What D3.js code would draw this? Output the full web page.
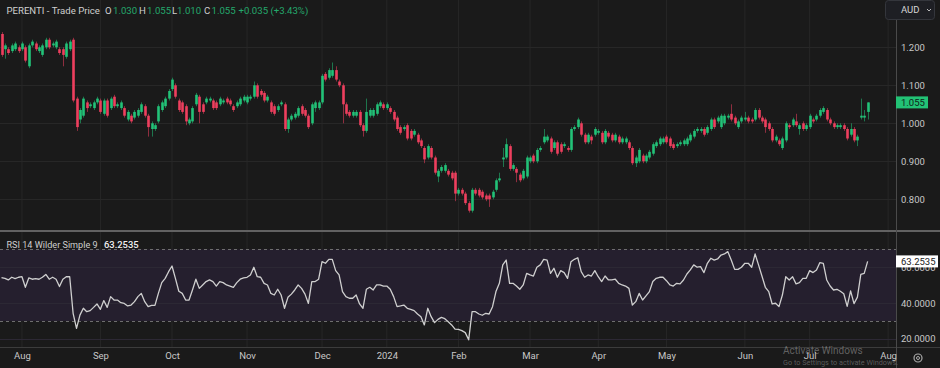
<!DOCTYPE html>
<html><head><meta charset="utf-8">
<script src="https://cdn.jsdelivr.net/npm/d3@7"></script>
<style>
html,body{margin:0;padding:0;background:#1a1a1a;overflow:hidden}
svg{display:block}
text{font-family:Roboto,"Noto Sans",sans-serif}
</style></head>
<body><svg id="c" width="940" height="368"></svg>
<script>
// ---------- DATA ----------
const ticker = "PERENTI - Trade Price";
const startDate = "2023-07-24";
const holidays = ["2023-12-25","2023-12-26","2024-01-01","2024-01-26","2024-03-29","2024-04-01","2024-04-25","2024-06-10"];
const monthLabels = ["Aug","Sep","Oct","Nov","Dec","2024","Feb","Mar","Apr","May","Jun","Jul","Aug"];
const priceTicks = [0.8, 0.9, 1.0, 1.1, 1.2];
const rsiTicks = [20, 40, 60];
const rsiBands = [30, 70];

const open = [
1.235,1.195,1.195,1.190,1.195,1.200,1.195,1.200,1.150,1.205,
1.210,1.190,1.180,1.200,1.220,1.205,1.200,1.195,1.195,1.175,
1.195,1.220,1.065,1.010,1.020,1.055,1.045,1.040,1.055,1.060,
1.025,1.060,1.040,1.070,1.045,1.040,1.040,1.010,1.020,1.015,
1.020,1.030,1.045,1.020,0.985,0.985,1.005,1.035,1.045,1.065,
1.090,1.100,1.060,1.055,1.045,1.000,1.005,1.050,1.070,1.050,
1.055,1.060,1.060,1.055,1.050,1.055,1.065,1.060,1.045,1.045,
1.050,1.060,1.055,1.065,1.070,1.100,1.085,1.080,1.060,1.055,
1.045,1.035,1.050,1.050,0.985,1.010,1.015,1.020,1.045,1.035,
1.020,1.000,1.040,1.040,1.055,1.130,1.120,1.125,1.140,1.110,
1.100,1.050,1.030,1.020,1.020,1.030,0.995,0.980,1.020,1.020,
1.025,1.045,1.050,1.040,1.040,1.030,1.015,0.990,0.985,0.995,
0.980,0.970,0.970,0.955,0.935,0.910,0.935,0.910,0.860,0.875,
0.875,0.875,0.870,0.870,0.815,0.825,0.815,0.790,0.770,0.825,
0.825,0.820,0.810,0.810,0.805,0.825,0.850,0.905,0.910,0.940,
0.880,0.880,0.865,0.855,0.860,0.900,0.915,0.900,0.930,0.950,
0.955,0.960,0.935,0.950,0.945,0.940,0.935,0.930,0.985,0.990,
1.000,0.970,0.950,0.965,0.970,0.975,0.975,0.950,0.975,0.970,
0.955,0.965,0.950,0.950,0.950,0.935,0.895,0.900,0.915,0.900,
0.910,0.920,0.940,0.945,0.950,0.965,0.960,0.945,0.940,0.945,
0.945,0.945,0.955,0.965,0.980,0.980,0.985,0.975,0.985,1.010,
1.005,0.990,1.000,1.015,1.025,1.015,0.990,1.005,1.010,1.015,
1.010,1.010,1.035,1.015,1.010,1.000,0.985,0.955,0.955,0.935,
0.955,0.995,0.995,1.005,0.985,1.000,0.985,0.990,1.010,1.010,
1.020,1.030,1.035,1.010,1.000,0.990,0.990,0.995,0.985,0.970,
0.985,0.955,1.015,1.015,1.030];

const high = [
1.240,1.210,1.200,1.210,1.215,1.205,1.215,1.205,1.210,1.220,
1.215,1.205,1.210,1.225,1.225,1.215,1.220,1.200,1.200,1.215,
1.220,1.225,1.070,1.040,1.070,1.060,1.055,1.060,1.070,1.065,
1.065,1.065,1.070,1.075,1.055,1.060,1.045,1.035,1.025,1.035,
1.040,1.055,1.050,1.025,1.005,1.000,1.050,1.060,1.070,1.090,
1.120,1.105,1.065,1.060,1.050,1.015,1.045,1.080,1.075,1.055,
1.070,1.070,1.065,1.060,1.070,1.065,1.070,1.065,1.050,1.060,
1.070,1.075,1.075,1.075,1.110,1.105,1.090,1.085,1.075,1.060,
1.050,1.050,1.060,1.055,1.015,1.025,1.030,1.045,1.050,1.040,
1.025,1.055,1.060,1.060,1.130,1.135,1.145,1.160,1.150,1.115,
1.105,1.055,1.035,1.035,1.035,1.035,1.000,1.065,1.040,1.040,
1.055,1.060,1.055,1.055,1.045,1.035,1.020,0.995,0.995,1.000,
0.985,0.985,0.975,0.960,0.940,0.945,0.940,0.915,0.880,0.890,
0.895,0.880,0.875,0.875,0.830,0.830,0.820,0.795,0.830,0.830,
0.830,0.825,0.815,0.815,0.825,0.855,0.870,0.935,0.960,0.945,
0.895,0.885,0.870,0.880,0.915,0.915,0.920,0.935,0.940,0.985,
0.970,0.965,0.955,0.955,0.950,0.950,0.940,0.990,0.995,1.015,
1.005,0.975,0.975,0.970,0.990,0.985,0.980,0.985,0.980,0.975,
0.975,0.970,0.965,0.965,0.955,0.940,0.915,0.935,0.920,0.920,
0.930,0.950,0.955,0.965,0.965,0.970,0.965,0.950,0.950,0.955,
0.960,0.965,0.975,0.985,0.990,0.990,0.990,0.995,1.015,1.015,
1.020,1.025,1.025,1.025,1.050,1.020,1.010,1.020,1.030,1.020,
1.015,1.040,1.040,1.020,1.015,1.005,0.990,0.970,0.960,0.965,
1.005,1.000,1.015,1.025,1.000,1.005,1.000,1.025,1.015,1.025,
1.040,1.045,1.040,1.015,1.005,1.000,1.000,1.000,0.990,1.000,
0.990,0.970,1.065,1.035,1.055];

const low = [
1.175,1.170,1.180,1.185,1.190,1.185,1.190,1.160,1.145,1.200,
1.190,1.185,1.175,1.195,1.195,1.200,1.195,1.180,1.150,1.170,
1.190,1.055,0.980,1.000,1.015,1.030,1.040,1.035,1.050,1.025,
1.020,1.015,1.035,1.040,1.040,1.035,1.015,1.005,1.000,1.010,
1.015,1.025,1.015,0.965,0.965,0.980,1.000,1.030,1.040,1.060,
1.085,1.065,1.030,1.025,0.995,0.995,1.000,1.045,1.000,1.025,
1.050,1.055,1.035,1.035,1.045,1.050,1.050,1.045,1.030,1.040,
1.045,1.055,1.050,1.060,1.065,1.065,1.070,1.055,1.055,1.025,
1.020,1.030,1.045,0.980,0.975,1.005,1.010,1.015,1.020,1.015,
0.985,0.995,1.030,1.035,1.050,1.110,1.115,1.120,1.110,1.095,
1.000,1.020,1.015,1.015,1.015,0.990,0.965,0.975,1.015,1.015,
1.020,1.040,1.035,1.035,1.025,1.005,0.980,0.970,0.980,0.955,
0.955,0.965,0.945,0.935,0.895,0.905,0.905,0.865,0.845,0.870,
0.870,0.860,0.850,0.795,0.810,0.810,0.785,0.765,0.765,0.810,
0.805,0.800,0.795,0.780,0.800,0.820,0.845,0.885,0.905,0.875,
0.875,0.845,0.845,0.850,0.855,0.895,0.895,0.895,0.925,0.945,
0.950,0.920,0.930,0.915,0.920,0.935,0.925,0.925,0.980,0.985,
0.965,0.945,0.945,0.945,0.965,0.970,0.945,0.945,0.960,0.950,
0.950,0.945,0.945,0.945,0.930,0.890,0.885,0.895,0.895,0.895,
0.905,0.915,0.935,0.940,0.945,0.945,0.935,0.930,0.935,0.940,
0.940,0.940,0.950,0.960,0.975,0.975,0.965,0.970,0.980,0.985,
1.000,0.985,0.995,1.010,1.005,0.995,0.985,1.000,1.005,1.000,
1.000,1.005,1.010,1.000,0.975,0.980,0.950,0.950,0.940,0.930,
0.950,0.985,0.990,0.990,0.970,0.980,0.980,0.985,1.000,1.005,
1.015,1.025,1.005,0.995,0.985,0.985,0.985,0.980,0.955,0.965,
0.950,0.940,1.010,1.005,1.010];

const close = [
1.180,1.205,1.185,1.205,1.210,1.190,1.210,1.165,1.205,1.215,
1.195,1.200,1.205,1.220,1.200,1.210,1.215,1.185,1.180,1.210,
1.215,1.060,0.990,1.035,1.065,1.040,1.050,1.055,1.065,1.030,
1.060,1.020,1.065,1.045,1.050,1.055,1.020,1.030,1.005,1.030,
1.035,1.050,1.020,0.990,1.000,0.995,1.045,1.055,1.065,1.085,
1.115,1.070,1.035,1.030,1.005,1.010,1.040,1.075,1.030,1.030,
1.065,1.065,1.040,1.040,1.065,1.060,1.055,1.050,1.035,1.055,
1.065,1.070,1.070,1.070,1.100,1.070,1.075,1.060,1.070,1.030,
1.025,1.045,1.055,0.985,1.010,1.020,1.025,1.040,1.025,1.020,
0.990,1.050,1.055,1.055,1.125,1.115,1.140,1.140,1.115,1.100,
1.050,1.025,1.020,1.030,1.030,0.995,0.980,1.030,1.035,1.035,
1.050,1.055,1.040,1.050,1.030,1.010,0.985,0.975,0.990,0.960,
0.960,0.980,0.950,0.940,0.905,0.940,0.910,0.870,0.875,0.885,
0.890,0.865,0.855,0.815,0.825,0.815,0.790,0.770,0.825,0.815,
0.810,0.805,0.800,0.800,0.820,0.850,0.855,0.910,0.945,0.880,
0.890,0.870,0.850,0.875,0.910,0.910,0.900,0.930,0.935,0.965,
0.965,0.925,0.950,0.920,0.925,0.945,0.930,0.985,0.990,1.010,
0.970,0.950,0.970,0.955,0.985,0.980,0.950,0.980,0.965,0.955,
0.970,0.950,0.960,0.960,0.935,0.895,0.910,0.930,0.900,0.915,
0.925,0.945,0.950,0.960,0.960,0.950,0.940,0.935,0.945,0.950,
0.955,0.960,0.970,0.980,0.985,0.985,0.970,0.990,1.010,0.990,
1.015,1.020,1.020,1.020,1.010,1.000,1.005,1.015,1.015,1.005,
1.005,1.035,1.015,1.005,0.990,0.985,0.955,0.965,0.945,0.960,
1.000,0.990,1.010,0.995,0.995,0.985,0.995,1.020,1.005,1.020,
1.035,1.040,1.010,1.000,0.990,0.995,0.995,0.985,0.960,0.985,
0.955,0.965,1.020,1.020,1.055];

const rsi = [
54.2,53.8,52.9,54.4,53.6,54.4,54.7,48.8,54.0,53.3,
53.6,53.3,54.4,56.0,53.3,54.4,53.3,49.2,53.3,54.7,
54.7,34.3,25.9,33.3,37.1,35.2,35.8,37.6,39.5,36.5,
41.4,37.6,43.6,41.7,41.7,40.2,39.8,38.4,38.9,40.8,
43.6,45.4,40.8,38.0,38.7,38.7,45.4,51.4,53.8,57.5,
60.7,53.8,46.6,45.4,41.7,41.7,47.3,53.3,48.2,50.1,
52.0,52.9,52.0,49.5,52.0,51.4,50.1,49.5,48.8,51.4,
53.3,54.0,54.4,55.7,60.0,54.7,54.4,51.0,50.1,45.4,
44.5,47.7,44.5,37.1,43.2,45.0,47.3,50.1,48.2,45.0,
39.8,52.0,52.0,53.3,63.1,62.2,64.4,64.4,58.1,55.7,
46.4,43.6,42.7,42.7,44.5,39.5,37.1,47.7,48.8,47.3,
50.1,50.1,49.5,49.5,47.7,43.6,38.0,38.4,38.9,37.1,
36.5,35.8,33.9,32.4,27.8,37.1,32.4,29.1,30.9,32.0,
31.3,29.6,27.8,25.5,25.3,24.6,23.5,19.5,35.2,35.2,
33.9,33.2,34.3,33.9,38.0,46.4,51.0,61.3,64.0,51.0,
51.0,49.5,47.7,50.1,56.6,55.7,55.1,60.0,61.3,64.4,
64.0,56.6,59.4,54.4,58.1,57.0,53.8,63.1,64.4,65.3,
57.5,54.4,55.7,55.1,58.1,54.7,52.0,55.1,52.9,52.9,
53.3,51.0,50.1,49.5,48.2,38.9,40.8,45.4,41.7,44.0,
46.4,52.0,53.8,54.4,54.4,52.5,50.1,49.5,51.0,50.7,
52.9,56.2,58.5,61.3,60.0,60.3,57.0,62.2,65.0,64.0,
64.6,66.8,67.4,68.7,64.0,58.8,58.8,60.0,62.2,62.2,
60.0,67.4,61.3,55.1,48.8,46.4,39.5,39.9,38.0,44.5,
54.7,52.9,54.7,50.7,51.4,53.8,53.8,58.1,57.0,58.5,
62.6,62.2,52.9,49.5,47.3,47.7,46.6,45.2,38.2,46.8,
39.7,43.3,56.0,56.6,63.2535];

// ---------- LAYOUT ----------
const W = 940, H = 368;
const axisX = 896;
const upC = "#22c278", dnC = "#ee3f5e", bg = "#1a1a1a", gridC = "#272727", txtC = "#c8c8c8";
const svg = d3.select("#c");
svg.append("rect").attr("width", W).attr("height", H).attr("fill", bg);

// trading calendar -> index of first trading day per month
const hol = new Set(holidays);
const dates = [];
let d = new Date(startDate + "T00:00:00Z");
while (dates.length < 262) {
  const wd = d.getUTCDay(), s = d.toISOString().slice(0, 10);
  if (wd !== 0 && wd !== 6 && !hol.has(s)) dates.push(new Date(d));
  d.setUTCDate(d.getUTCDate() + 1);
}
const monthIdx = [];
for (let i = 1; i < dates.length; i++) if (dates[i].getUTCMonth() !== dates[i-1].getUTCMonth()) monthIdx.push(i);

const x = d3.scaleLinear().domain([0, 260]).range([1.5, 1.5 + 260 * 3.41]);
const yP = d3.scaleLinear().domain([0.8, 1.2]).range([199.3, 47.3]);
const yR = d3.scaleLinear().domain([30, 70]).range([321, 249.3]);

const defs = svg.append("defs");
defs.append("clipPath").attr("id", "cp").append("rect").attr("x", 0).attr("y", 0).attr("width", axisX).attr("height", 230);
defs.append("clipPath").attr("id", "cr").append("rect").attr("x", 0).attr("y", 233).attr("width", axisX).attr("height", 114);

// vertical grid
svg.append("g").selectAll("line").data(monthIdx.slice(0, monthLabels.length)).join("line")
  .attr("x1", i => x(i)).attr("x2", i => x(i)).attr("y1", 0).attr("y2", 347)
  .attr("stroke", gridC).attr("stroke-width", 1);

// price grid
svg.append("g").selectAll("line").data(priceTicks).join("line")
  .attr("x1", 0).attr("x2", axisX).attr("y1", p => Math.round(yP(p)) + 0.5).attr("y2", p => Math.round(yP(p)) + 0.5)
  .attr("stroke", gridC);

// RSI band
svg.append("rect").attr("x", 0).attr("width", axisX)
  .attr("y", yR(rsiBands[1])).attr("height", yR(rsiBands[0]) - yR(rsiBands[1]))
  .attr("fill", "#251f2e");
svg.append("g").selectAll("line").data(rsiTicks).join("line")
  .attr("x1", 0).attr("x2", axisX).attr("y1", r => Math.round(yR(r)) + 0.5).attr("y2", r => Math.round(yR(r)) + 0.5)
  .attr("stroke", "#2c2834");
svg.append("g").selectAll("line").data(rsiBands).join("line")
  .attr("x1", 0).attr("x2", axisX).attr("y1", r => Math.round(yR(r)) + 0.5).attr("y2", r => Math.round(yR(r)) + 0.5)
  .attr("stroke", "#6e6e6e").attr("stroke-dasharray", "3,3");

// candles
const idx = d3.range(close.length);
const cg = svg.append("g").attr("clip-path", "url(#cp)");
cg.selectAll("line").data(idx).join("line")
  .attr("x1", i => Math.round(x(i)) + 0.5).attr("x2", i => Math.round(x(i)) + 0.5)
  .attr("y1", i => yP(high[i])).attr("y2", i => yP(low[i]))
  .attr("stroke", i => close[i] >= open[i] ? upC : dnC).attr("stroke-opacity", 0.55).attr("stroke-width", 1);
cg.selectAll("rect").data(idx).join("rect")
  .attr("x", i => Math.round(x(i)) + 0.5 - 1.3).attr("width", 2.6)
  .attr("y", i => yP(Math.max(open[i], close[i])))
  .attr("height", i => Math.max(1, Math.abs(yP(open[i]) - yP(close[i]))))
  .attr("fill", i => close[i] >= open[i] ? upC : dnC);

// RSI line
svg.append("g").attr("clip-path", "url(#cr)").append("path")
  .datum(idx)
  .attr("d", d3.line().x(i => x(i)).y(i => yR(rsi[i])))
  .attr("fill", "none").attr("stroke", "#cfcfcf").attr("stroke-width", 1.3).attr("stroke-linejoin", "round");

// panel separators and axis lines
svg.append("line").attr("x1", 0).attr("x2", W).attr("y1", 231).attr("y2", 231).attr("stroke", "#626262").attr("stroke-width", 2);
svg.append("line").attr("x1", 0).attr("x2", W).attr("y1", 347.5).attr("y2", 347.5).attr("stroke", "#3c3c3c");
svg.append("line").attr("x1", axisX + 0.5).attr("x2", axisX + 0.5).attr("y1", 0).attr("y2", H).attr("stroke", "#4a4a4a");

// price axis
const pa = svg.append("g").attr("transform", `translate(${axisX},0)`)
  .call(d3.axisRight(yP).tickValues(priceTicks).tickFormat(d3.format(".3f")).tickSize(0).tickPadding(5));
pa.select(".domain").remove();
pa.selectAll("text").attr("fill", txtC).attr("font-size", 9.5).attr("font-family", "Roboto, sans-serif");

// rsi axis
const ra = svg.append("g").attr("transform", `translate(${axisX},0)`)
  .call(d3.axisRight(yR).tickValues(rsiTicks).tickFormat(d3.format(".4f")).tickSize(0).tickPadding(5));
ra.select(".domain").remove();
ra.selectAll("text").attr("fill", txtC).attr("font-size", 9.5).attr("font-family", "Roboto, sans-serif");

// time axis
const ta = svg.append("g").attr("transform", "translate(0,352)")
  .call(d3.axisBottom(x).tickValues(monthIdx.slice(0, monthLabels.length)).tickFormat((v, k) => monthLabels[k]).tickSize(0).tickPadding(0));
ta.select(".domain").remove();
ta.selectAll("text").attr("fill", txtC).attr("font-size", 9.5).attr("font-family", "Roboto, sans-serif");

// last price label
const last = close.length - 1;
svg.append("rect").attr("x", axisX).attr("y", yP(close[last]) - 6).attr("width", 32).attr("height", 12).attr("fill", "#22c275");
svg.append("text").attr("x", axisX + 5).attr("y", yP(close[last]) + 3.5).text(d3.format(".3f")(close[last]))
  .attr("fill", "#102018").attr("font-size", 9.5);

// last RSI label
svg.append("rect").attr("x", axisX).attr("y", yR(rsi[last]) - 6).attr("width", 42).attr("height", 12).attr("fill", "#ffffff");
svg.append("text").attr("x", axisX + 5).attr("y", yR(rsi[last]) + 3.5).text(d3.format(".4f")(rsi[last]))
  .attr("fill", "#1a1a1a").attr("font-size", 9.5);

// AUD button
svg.append("rect").attr("x", 885.5).attr("y", 0.5).attr("width", 49).attr("height", 19).attr("rx", 3)
  .attr("fill", "#1e1f24").attr("stroke", "#34363c");
svg.append("text").attr("x", 901).attr("y", 13).text("AUD").attr("fill", "#d6d6d6").attr("font-size", 9.5);
svg.append("path").attr("d", "M927,9 L929,11 L931,9").attr("fill", "none").attr("stroke", "#bbbbbb").attr("stroke-width", 1);

// legend
const fmt3 = d3.format(".3f");
const chg = close[last] - close[last - 1];
const leg = svg.append("g").attr("font-size", 9.6);
const legendParts = [
  [6.5, ticker, "#cfcfcf"],
  [105, "O", "#cfcfcf"], [113, fmt3(open[last]), "#24a86c"],
  [139, "H", "#cfcfcf"], [147, fmt3(high[last]), "#24a86c"],
  [172, "L", "#cfcfcf"], [177, fmt3(low[last]), "#24a86c"],
  [204, "C", "#cfcfcf"], [211.5, fmt3(close[last]), "#24a86c"],
  [238.5, "+" + fmt3(chg) + " (+" + d3.format(".2f")(chg / close[last - 1] * 100) + "%)", "#24a86c"]
];
leg.selectAll("text").data(legendParts).join("text")
  .attr("x", p => p[0]).attr("y", 14).text(p => p[1]).attr("fill", p => p[2]);

svg.append("text").attr("x", 6.5).attr("y", 247.5).text("RSI 14 Wilder Simple 9").attr("fill", "#cfcfcf").attr("font-size", 9.1);
svg.append("text").attr("x", 104).attr("y", 247.5).text(d3.format(".4f")(rsi[last])).attr("fill", "#f0f0f0").attr("font-size", 9.4).attr("font-weight", 500);

// gear icon
svg.append("circle").attr("cx", 918).attr("cy", 358).attr("r", 4).attr("fill", "none").attr("stroke", "#aaaaaa").attr("stroke-width", 1.2);
svg.append("circle").attr("cx", 918).attr("cy", 358).attr("r", 1.5).attr("fill", "none").attr("stroke", "#aaaaaa").attr("stroke-width", 1);

// OS watermark
svg.append("text").attr("x", 783).attr("y", 354).text("Activate Windows").attr("fill", "rgba(200,200,200,0.42)").attr("font-size", 10);
svg.append("text").attr("x", 783).attr("y", 365).text("Go to Settings to activate Windows.").attr("fill", "rgba(200,200,200,0.38)").attr("font-size", 7.3);
</script>
</body></html>
